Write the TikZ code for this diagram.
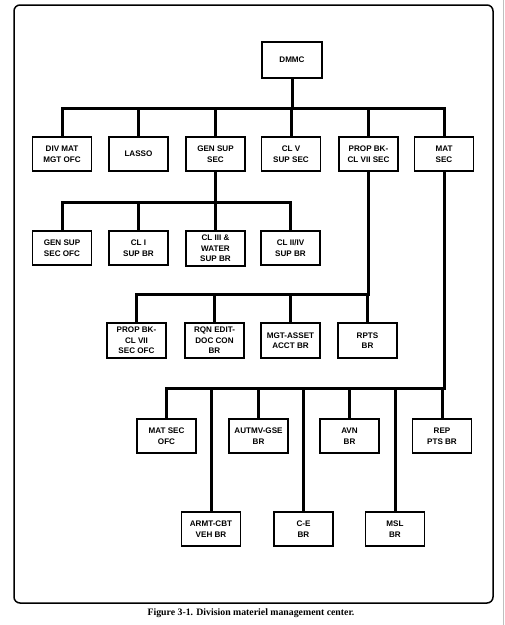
\documentclass[tikz,border=0pt]{standalone}
\usepackage{fontspec}
\newfontfamily\orgfont{Liberation Sans}
\newfontfamily\capfont{Liberation Serif}
\usetikzlibrary{positioning}

\begin{document}
\begin{tikzpicture}
  [x=1pt, y=-1pt,
   unit/.style={draw=black, line width=1.4pt, minimum width=59pt, minimum height=34pt,
                inner sep=1pt, align=center, font=\orgfont\bfseries\fontsize{8.1}{10.5}\selectfont},
   link/.style={line width=3pt, draw=black},
   frame/.style={line width=1.5pt, draw=black, rounded corners=6pt}]

  \useasboundingbox (0,0) rectangle (505,625);

  % Marco exterior
  \draw[frame] (14,5) rectangle (493,603);
  \draw[black!25, line width=1pt] (503,0) -- (503,625);

  % Jefatura
  \node[unit, minimum width=60pt, minimum height=36pt] (dmmc) at (292,60) {DMMC};

  % Secciones
  \node[unit] (divmat) at (62,154) {DIV MAT\\MGT OFC};
  \node[unit] (lasso) at (138.5,154) {LASSO};
  \node[unit] (gensup) at (215.5,154) {GEN SUP\\SEC};
  \node[unit] (clv) at (291,154) {CL V\\SUP SEC};
  \node[unit] (propbk) at (368.5,154) {PROP BK-\\CL VII SEC};
  \node[unit] (matsec) at (444,154) {MAT\\SEC};

  % Ramas de GEN SUP SEC
  \node[unit] (gensupofc) at (62,248) {GEN SUP\\SEC OFC};
  \node[unit] (cli) at (138.5,248) {CL I\\SUP BR};
  \node[unit, minimum height=35pt] (cliii) at (215.5,248.5) {CL III \&\\WATER\\SUP BR};
  \node[unit] (cliiiv) at (290.5,248) {CL II/IV\\SUP BR};

  % Ramas de PROP BK
  \node[unit, minimum height=35pt] (propofc) at (136.5,340.5) {PROP BK-\\CL VII\\SEC OFC};
  \node[unit, minimum height=35pt] (rqn) at (214.5,340.5) {RQN EDIT-\\DOC CON\\BR};
  \node[unit, minimum height=35pt] (mgtasset) at (290.5,340.5) {MGT-ASSET\\ACCT BR};
  \node[unit, minimum height=35pt] (rpts) at (367.5,340.5) {RPTS\\BR};

  % Ramas de MAT SEC
  \node[unit] (matsecofc) at (166.5,436) {MAT SEC\\OFC};
  \node[unit] (autmv) at (258.5,436) {AUTMV-GSE\\BR};
  \node[unit] (avn) at (349.5,436) {AVN\\BR};
  \node[unit] (reppts) at (442,436) {REP\\PTS BR};
  \node[unit] (armt) at (211,529) {ARMT-CBT\\VEH BR};
  \node[unit] (ce) at (303.5,529) {C-E\\BR};
  \node[unit] (msl) at (395,529) {MSL\\BR};

  % Barras
  \coordinate (bus1) at (0,108);
  \coordinate (bus2) at (0,202);
  \coordinate (bus3) at (0,294);
  \coordinate (bus4) at (0,388);

  \foreach \c in {divmat, lasso, gensup, clv, propbk, matsec}
    \draw[link] (dmmc.south) |- (\c.north |- bus1) -- (\c.north);
  \foreach \c in {gensupofc, cli, cliii, cliiiv}
    \draw[link] (gensup.south) |- (\c.north |- bus2) -- (\c.north);
  \foreach \c in {propofc, rqn, mgtasset, rpts}
    \draw[link] (propbk.south) |- (\c.north |- bus3) -- (\c.north);
  \foreach \c in {matsecofc, armt, autmv, ce, avn, msl, reppts}
    \draw[link] (matsec.south) |- (\c.north |- bus4) -- (\c.north);

  % Pie de figura
  \node[font=\capfont\bfseries\fontsize{9.8}{12}\selectfont] (caption) at (251,613)
    {Figure 3-1. Division materiel management center.};
\end{tikzpicture}
\end{document}
